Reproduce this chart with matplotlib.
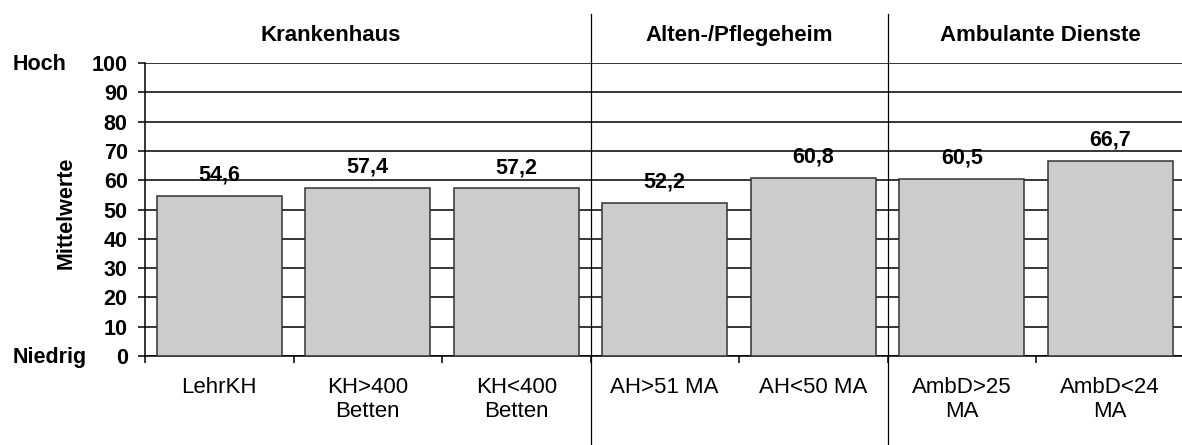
import matplotlib
matplotlib.use("Agg")
import matplotlib.pyplot as plt
import numpy as np

plt.rcParams['font.family'] = ['Liberation Sans', 'DejaVu Sans']

categories = ["LehrKH", "KH>400\nBetten", "KH<400\nBetten", "AH>51 MA",
              "AH<50 MA", "AmbD>25\nMA", "AmbD<24\nMA"]
values = [54.6, 57.4, 57.2, 52.2, 60.8, 60.5, 66.7]
value_labels = ["54,6", "57,4", "57,2", "52,2", "60,8", "60,5", "66,7"]
groups = ["Krankenhaus", "Alten-/Pflegeheim", "Ambulante Dienste"]
group_centers = [0.75, 3.5, 5.53]
group_breaks = [2.5, 4.5]
yticks = list(range(0, 101, 10))

W, H = 1182, 445
fig = plt.figure(figsize=(W / 100, H / 100), dpi=100)
ax = fig.add_axes([145 / W, (H - 356) / H, 1039.5 / W, 293 / H])

x = np.arange(len(categories))
ax.bar(x, values, width=0.84, color="#cccccc", edgecolor="#333333",
       linewidth=1.1, zorder=3)

for xi, v, lab in zip(x, values, value_labels):
    ax.annotate(lab, (xi, v), xytext=(0, 11), textcoords="offset points",
                ha="center", va="baseline", fontsize=15.5, fontweight="bold",
                zorder=4)

ax.set_xlim(-0.5, len(categories) - 0.5)
ax.set_ylim(0, 100)

ax.set_yticks(yticks)
ax.set_yticklabels([str(t) for t in yticks], fontsize=15.5, fontweight="bold")
ax.yaxis.grid(True, color="black", linewidth=1.1, zorder=0)
ax.set_axisbelow(True)
ax.tick_params(axis="y", length=5, width=1.1, pad=7.5, direction="out")

ax.set_xticks(np.arange(-0.5, len(categories), 1.0))
ax.set_xticklabels([])
ax.set_xticks(x, minor=True)
ax.set_xticklabels(categories, minor=True, fontsize=16)
ax.tick_params(axis="x", which="major", length=5, width=1.1, direction="out")
ax.tick_params(axis="x", which="minor", length=0, pad=15)

for s in ["top", "right"]:
    ax.spines[s].set_visible(False)
for s in ["left", "bottom"]:
    ax.spines[s].set_linewidth(1.1)

for b in group_breaks:
    ax.axvline(b, ymin=-0.304, ymax=1.167, color="black", linewidth=0.9,
               clip_on=False, zorder=5)

for g, c in zip(groups, group_centers):
    ax.text(c, 1.095, g, transform=ax.get_xaxis_transform(), ha="center",
            va="center", fontsize=16, fontweight="bold")

ax.set_ylabel("Mittelwerte", fontsize=15.5, fontweight="bold")
ax.yaxis.set_label_coords(-0.066, 0.49)

fig.text(13 / W, 1 - 65 / H, "Hoch", ha="left", va="center",
         fontsize=15.5, fontweight="bold")
fig.text(13 / W, 1 - 357 / H, "Niedrig", ha="left", va="center",
         fontsize=15.5, fontweight="bold")

fig.savefig("out.png", dpi=100)
